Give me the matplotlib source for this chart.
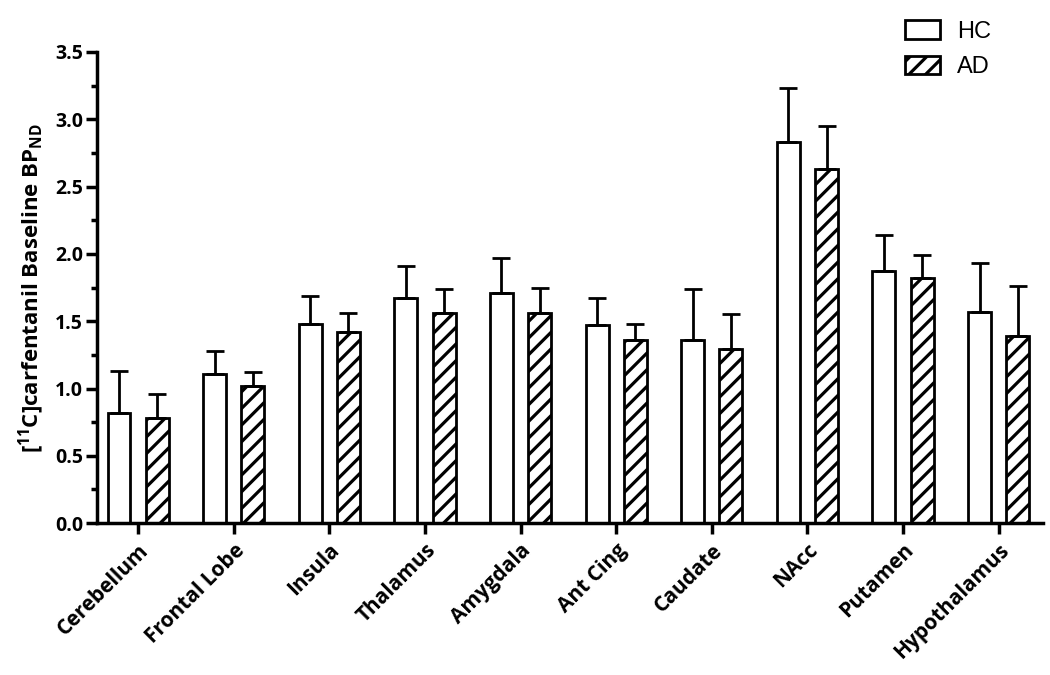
import numpy as np
import matplotlib
matplotlib.use("Agg")
import matplotlib.pyplot as plt

regions = ["Cerebellum", "Frontal Lobe", "Insula", "Thalamus", "Amygdala",
           "Ant Cing", "Caudate", "NAcc", "Putamen", "Hypothalamus"]
hc_mean = [0.82, 1.11, 1.48, 1.67, 1.71, 1.47, 1.36, 2.83, 1.87, 1.57]
hc_sd = [0.31, 0.17, 0.21, 0.24, 0.26, 0.20, 0.38, 0.40, 0.27, 0.36]
ad_mean = [0.78, 1.02, 1.42, 1.56, 1.56, 1.36, 1.29, 2.63, 1.82, 1.39]
ad_sd = [0.18, 0.10, 0.14, 0.18, 0.19, 0.12, 0.26, 0.32, 0.17, 0.37]

plt.rcParams['font.family'] = ['Open Sans', 'DejaVu Sans']
plt.rcParams['mathtext.fontset'] = 'custom'
plt.rcParams['mathtext.bf'] = 'Open Sans:bold'
plt.rcParams['mathtext.rm'] = 'Open Sans:bold'
plt.rcParams['hatch.color'] = '#555555'
plt.rcParams['hatch.linewidth'] = 2.3

fig = plt.figure(figsize=(10.5, 6.75), dpi=100)
ax = fig.add_axes([0.0924, 0.225, 0.9006, 0.698])

x = np.arange(len(regions))
w = 0.24
off = 0.2
err_kw = dict(elinewidth=2, capsize=6.5, capthick=2, ecolor='black')

ax.bar(x - off, hc_mean, w, color='white', edgecolor='black', linewidth=2,
       yerr=[np.zeros(len(hc_sd)), hc_sd], error_kw=err_kw, label='HC', zorder=2)
ax.bar(x + off, ad_mean, w, color='white', edgecolor='black', linewidth=2,
       hatch='//', yerr=[np.zeros(len(ad_sd)), ad_sd], error_kw=err_kw,
       label='AD', zorder=2)

ax.set_xlim(-0.43, 9.46)
ax.set_ylim(0, 3.5)
ax.set_yticks(np.arange(0, 3.51, 0.5))
ax.set_yticks(np.arange(0, 3.51, 0.25), minor=True)
ax.set_yticklabels([f"{v:.1f}" for v in np.arange(0, 3.51, 0.5)],
                   fontsize=14, fontweight='bold')
ax.set_xticks(x)
ax.set_xticklabels(regions, rotation=45, ha='right', rotation_mode='anchor',
                   fontsize=15, fontweight='bold')
ax.tick_params(axis='both', which='major', width=2.5, length=8, direction='out')
ax.tick_params(axis='y', which='minor', width=2.5, length=4)
ax.tick_params(axis='x', pad=4)
ax.tick_params(axis='y', pad=2)

for s in ['top', 'right']:
    ax.spines[s].set_visible(False)
for s in ['left', 'bottom']:
    ax.spines[s].set_linewidth(2.5)

ax.set_ylabel(r"[$^{\mathbf{11}}$C]carfentanil Baseline BP$_{\mathbf{ND}}$",
              fontsize=16, fontweight='bold', labelpad=6)

leg = fig.legend(loc='upper left', bbox_to_anchor=(905 / 1050, 1 - 20 / 675),
                 bbox_transform=fig.transFigure, frameon=False,
                 prop={'family': 'Liberation Sans', 'size': 17},
                 handlelength=1.5, handleheight=0.85, labelspacing=0.55,
                 handletextpad=0.7, borderpad=0, borderaxespad=0)

fig.savefig("out.png", dpi=100)
